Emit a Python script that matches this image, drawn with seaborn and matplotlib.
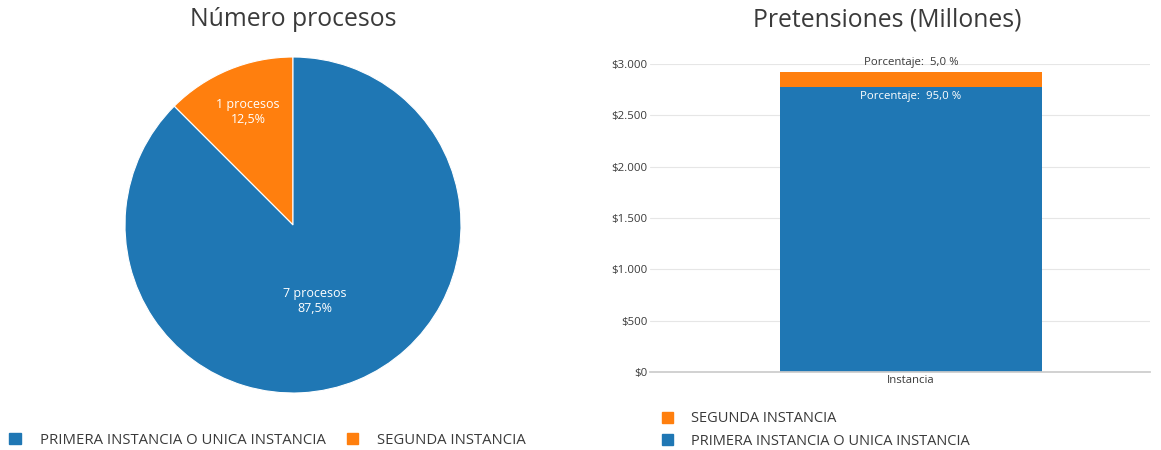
import matplotlib
matplotlib.use("Agg")
import matplotlib.pyplot as plt
import seaborn as sns
import pandas as pd
from matplotlib.patches import Patch
from matplotlib.ticker import FuncFormatter

sns.set_theme(style="white")
plt.rcParams['font.family'] = ['Open Sans', 'DejaVu Sans']

# Data
pie_categories = ["PRIMERA INSTANCIA O UNICA INSTANCIA", "SEGUNDA INSTANCIA"]
pie_counts = [7, 1]
bar_category = ["Instancia"]
bar_primera = [2774]
bar_segunda = [146]
bar_pct_primera = ["95,0"]
bar_pct_segunda = ["5,0"]
yticks_vals = [0, 500, 1000, 1500, 2000, 2500, 3000]

BLUE = "#1f77b4"
ORANGE = "#ff7f0e"
TXT = "#3a3a3a"

W, H = 1161, 450
fig = plt.figure(figsize=(W / 100, H / 100), dpi=100)

def box(x0, y0, x1, y1):
    return [x0 / W, 1 - y1 / H, (x1 - x0) / W, (y1 - y0) / H]

# ---- Pie ----
cx, cy, r = 293, 225, 168
axp = fig.add_axes(box(cx - r, cy - r, cx + r, cy + r))
total = sum(pie_counts)
order = [1, 0]  # orange first, counterclockwise from top
vals = [pie_counts[i] for i in order]
cols = [ORANGE, BLUE]
wedges, _ = axp.pie(vals, colors=cols, startangle=90, counterclock=True,
                    wedgeprops=dict(edgecolor="white", linewidth=0.8))
axp.set_aspect("equal")
axp.set_xlim(-1, 1)
axp.set_ylim(-1, 1)
fig.text(248 / W, 1 - 112 / H, f"{pie_counts[1]} procesos\n{pie_counts[1] / total * 100:.1f}%".replace(".", ","),
         ha="center", va="center", color="white", fontsize=9, linespacing=1.25)
fig.text(315 / W, 1 - 301 / H, f"{pie_counts[0]} procesos\n{pie_counts[0] / total * 100:.1f}%".replace(".", ","),
         ha="center", va="center", color="white", fontsize=9, linespacing=1.25)
fig.text(293 / W, 1 - 20 / H, "Número procesos", ha="center", va="center", fontsize=17.8, color=TXT)

fig.legend(handles=[Patch(color=BLUE, label=pie_categories[0]), Patch(color=ORANGE, label=pie_categories[1])],
           loc="center left", bbox_to_anchor=(-4 / W, 1 - 440 / H), ncol=2, frameon=False,
           fontsize=10.7, handlelength=0.75, handleheight=0.75, handletextpad=1.3, columnspacing=1.4,
           labelcolor=TXT)

# ---- Bar ----
axb = fig.add_axes(box(650, 64, 1150, 372))
df = pd.DataFrame({"cat": bar_category,
                   "total": [a + b for a, b in zip(bar_primera, bar_segunda)],
                   "primera": bar_primera})
sns.barplot(data=df, x="cat", y="total", color=ORANGE, saturation=1, width=0.524, ax=axb, linewidth=0)
sns.barplot(data=df, x="cat", y="primera", color=BLUE, saturation=1, width=0.524, ax=axb, linewidth=0)
axb.set_xlim(-0.522, 0.478)
axb.set_ylim(0, 3000)
axb.set_yticks(yticks_vals)
axb.yaxis.set_major_formatter(FuncFormatter(lambda v, p: "$" + f"{int(v):,}".replace(",", ".")))
axb.grid(axis="y", color="#e6e6e6", linewidth=0.8)
axb.set_axisbelow(True)
for s in ["top", "right", "left"]:
    axb.spines[s].set_visible(False)
axb.spines["bottom"].set_color("#cccccc")
axb.tick_params(axis="both", labelsize=8.2, colors=TXT, length=0, pad=2)
axb.set_xlabel("")
axb.set_ylabel("")
tot = df["total"][0]
axb.text(0, tot + 40, f"Porcentaje:  {bar_pct_segunda[0]} %", ha="center", va="bottom", fontsize=8.2, color=TXT)
axb.text(0, bar_primera[0] - 40, f"Porcentaje:  {bar_pct_primera[0]} %", ha="center", va="top", fontsize=8.2, color="white")
fig.text(887 / W, 1 - 20 / H, "Pretensiones (Millones)", ha="center", va="center", fontsize=17.8, color=TXT)

fig.legend(handles=[Patch(color=ORANGE, label="SEGUNDA INSTANCIA"), Patch(color=BLUE, label="PRIMERA INSTANCIA O UNICA INSTANCIA")],
           loc="center left", bbox_to_anchor=(649 / W, 1 - 430 / H), ncol=1, frameon=False,
           fontsize=10.5, handlelength=0.75, handleheight=0.75, handletextpad=1.2, labelspacing=0.5,
           labelcolor=TXT)

fig.savefig("out.png", dpi=100)
